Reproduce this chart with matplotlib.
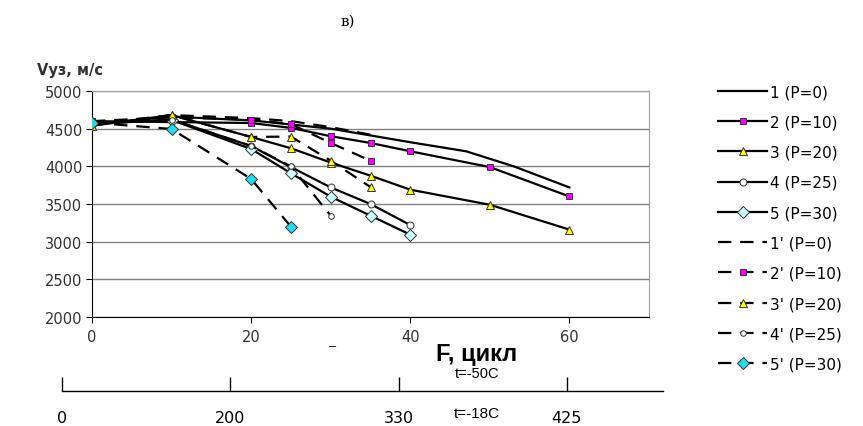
import numpy as np
import matplotlib.pyplot as plt
from matplotlib.lines import Line2D

plt.rcParams['font.family'] = ['Liberation Sans', 'DejaVu Sans']

# Data (F in cycles, Vуз in m/s)
x1 = [0, 10, 20, 30, 40, 47, 53, 60]
y1 = [4560, 4660, 4610, 4500, 4320, 4200, 4000, 3720]
x2 = [0, 20, 25, 30, 35, 40, 50, 60]
y2 = [4600, 4575, 4510, 4400, 4310, 4200, 3990, 3600]
x3 = [0, 10, 20, 25, 30, 35, 40, 50, 60]
y3 = [4540, 4680, 4390, 4240, 4050, 3876, 3690, 3490, 3160]
x4 = [0, 10, 20, 25, 30, 35, 40]
y4 = [4560, 4620, 4270, 3990, 3720, 3500, 3220]
x5 = [0, 10, 20, 25, 30, 35, 40]
y5 = [4580, 4615, 4230, 3908, 3597, 3345, 3093]

x1p = [0, 10, 20, 25, 30, 35]
y1p = [4560, 4680, 4640, 4600, 4520, 4420]
x2p = [0, 10, 20, 25, 30, 35]
y2p = [4600, 4650, 4620, 4560, 4310, 4075]
x3p = [0, 10, 20, 25, 30, 35]
y3p = [4540, 4680, 4390, 4395, 4075, 3725]
x4p = [0, 10, 20, 25, 30]
y4p = [4560, 4620, 4270, 4000, 3345]
x5p = [0, 10, 20, 25]
y5p = [4580, 4496, 3832, 3199]

labels = ['1 (P=0)', '2 (P=10)', '3 (P=20)', '4 (P=25)', '5 (P=30)',
          "1' (P=0)", "2' (P=10)", "3' (P=20)", "4' (P=25)", "5' (P=30)"]

# lower (t=-18C) cycle scale
low_ticks = ['0', '200', '330', '425']

fig = plt.figure(figsize=(8.63, 4.27), dpi=100)
ax = fig.add_axes([92/863, 1-318/427, (649-92)/863, 226/427])

lw = 1.6
dash = (0, (6, 4))
styles = [
    (x1, y1, '-', None, 'none', 0),
    (x2, y2, '-', 's', '#FF00FF', 5),
    (x3, y3, '-', '^', '#FFFF00', 6),
    (x4, y4, '-', 'o', 'white', 5),
    (x5, y5, '-', 'D', '#CCFFFF', 6),
    (x1p, y1p, dash, None, 'none', 0),
    (x2p, y2p, dash, 's', '#FF00FF', 5),
    (x3p, y3p, dash, '^', '#FFFF00', 6),
    (x4p, y4p, dash, 'o', 'white', 4),
    (x5p, y5p, dash, 'D', '#22DDEE', 6),
]
handles = []
for (xs, ys, ls, mk, fc, ms), lab in zip(styles, labels):
    ax.plot(xs, ys, color='black', linestyle=ls, linewidth=lw, marker=mk,
            markerfacecolor=fc, markeredgecolor='#333333', markeredgewidth=0.7,
            markersize=ms, zorder=3)
    handles.append(Line2D([], [], color='black', linestyle=ls, linewidth=lw,
                          marker=mk, markerfacecolor=fc, markeredgecolor='#333333',
                          markeredgewidth=0.7, markersize=ms))

ax.set_xlim(0, 70)
ax.set_ylim(2000, 5000)
ax.set_xticks([0, 20, 40, 60])
ax.set_yticks(np.arange(2000, 5001, 500))
ax.yaxis.grid(True, color='#808080', linewidth=1.0)
ax.set_axisbelow(True)
for s in ['top', 'right']:
    ax.spines[s].set_color('#a0a0a0')
for s in ['left', 'bottom']:
    ax.spines[s].set_color('black')
ax.tick_params(axis='both', direction='out', length=4, labelsize=10.5,
               labelcolor='#333333', pad=3)
ax.tick_params(axis='x', pad=5)
for t in ax.get_xticklabels() + ax.get_yticklabels():
    t.set_family('DejaVu Sans')

fig.text(37/863, 1-70/427, 'Vуз, м/с', fontsize=10.5, fontweight='bold',
         family='DejaVu Sans', ha='left', va='center', color='#333333')
fig.text(348/863, 1-22/427, 'в)', fontsize=11, family='DejaVu Serif',
         ha='center', va='center')
fig.text(332/863, 1-341/427, '_', fontsize=9, ha='center', va='center')
fig.text(477/863, 1-355/427, 'F, цикл', fontsize=17, fontweight='bold',
         ha='center', va='center')
fig.text(477/863, 1-374/427, 't=-50C', fontsize=10.5, ha='center', va='center')
fig.text(477/863, 1-414/427, 't=-18C', fontsize=11, ha='center', va='center')

# secondary cycle axis
ax2 = fig.add_axes([62/863, 1-392/427, (663-62)/863, 0.001])
ax2.set_xlim(0, (663-62)/168.3)
ax2.set_yticks([])
for s in ['top', 'left', 'right']:
    ax2.spines[s].set_visible(False)
ax2.spines['bottom'].set_linewidth(1.0)
ax2.set_xticks(range(len(low_ticks)))
ax2.set_xticklabels(low_ticks, family='DejaVu Sans')
ax2.tick_params(axis='x', direction='in', length=10, width=1.0, labelsize=11.5,
                pad=14)

fig.legend(handles, labels, loc='upper left', bbox_to_anchor=(712/863, 1-79/427),
           frameon=False, handlelength=3.2, handletextpad=0.2,
           labelspacing=1.0, borderaxespad=0,
           prop=dict(size=11, family='DejaVu Sans'))

fig.savefig('out.png', dpi=100)
